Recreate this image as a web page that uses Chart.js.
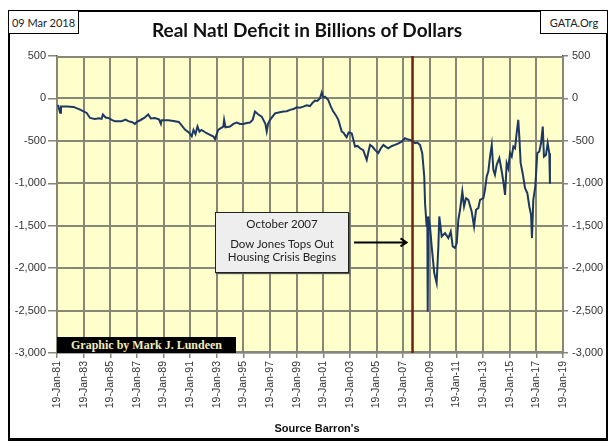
<!DOCTYPE html>
<html>
<head>
<meta charset="utf-8">
<script src="https://cdn.jsdelivr.net/npm/chart.js@4/dist/chart.umd.min.js"></script>
<style>
  body { margin: 0; background: #fff; }
  #wrap { position: relative; width: 614px; height: 447px; }
  #chart { position: absolute; left: 0; top: 0; }
  .abs { position: absolute; box-sizing: border-box; }
  #frame { left: 8px; top: 10px; width: 600px; height: 431px; border: 2px solid #000; border-bottom-width: 3px; }
  .corner { height: 24px; border: 1.5px solid #000; font: 11px Lato, sans-serif; color: #222;
            display: flex; align-items: center; justify-content: center; background: #fff; }
  #title { left: 0; width: 614px; top: 18px; text-align: center; font: bold 19px Lato, sans-serif; color: #111; }
  #source { left: 217px; width: 200px; top: 422px; text-align: center; font: bold 11px "Liberation Sans", sans-serif; color: #111; }
  #byline { left: 57px; top: 337px; width: 179px; height: 16px; background: #000; color: #f3edbd;
            font: bold 12px "Liberation Serif", serif; text-align: center; line-height: 16px; }
  #note { left: 215px; top: 212px; width: 134px; height: 61px; background: #eeeeee; border: 1.5px solid #222;
          box-shadow: 1px 1px 1px #555; font: 11.5px Lato, sans-serif; color: #222; text-align: center; }
</style>
</head>
<body>
<div id="wrap">
  <canvas id="chart" width="614" height="447"></canvas>
  <div class="abs" id="frame"></div>
  <div class="abs corner" style="left:8px; top:10px; width:71px;">09 Mar 2018</div>
  <div class="abs corner" style="left:540px; top:10px; width:68px;">GATA.Org</div>
  <div class="abs" id="title">Real Natl Deficit in Billions of Dollars</div>
  <div class="abs" id="byline">Graphic by Mark J. Lundeen</div>
  <div class="abs" id="note">
    <div style="margin-top:4px;">October 2007</div>
    <div style="margin-top:7px;">Dow Jones Tops Out</div>
    <div>Housing Crisis Begins</div>
  </div>
  <div class="abs" id="source">Source Barron's</div>
</div>
<script>
// decimal years
const dates = [
  1981.1, 1981.15, 1981.28, 1981.35, 1981.8, 1982.3, 1982.78, 1983.28, 1983.53, 1983.9,
  1984.2, 1984.4, 1984.5, 1984.7, 1984.9, 1985.2, 1985.4, 1985.9, 1986.2, 1986.4,
  1986.7, 1986.9, 1987.05, 1987.3, 1987.6, 1987.9, 1988.1, 1988.4, 1988.7, 1988.85,
  1988.9, 1989.4, 1989.8, 1990.2, 1990.66, 1990.95, 1991.17, 1991.3, 1991.45, 1991.6,
  1991.75, 1991.9, 1992.29, 1992.54, 1992.8, 1992.92, 1993.0, 1993.16, 1993.35, 1993.54,
  1993.6, 1993.7, 1994.04, 1994.3, 1994.55, 1994.8, 1995.04, 1995.3, 1995.54, 1995.75,
  1995.92, 1996.17, 1996.42, 1996.7, 1996.8, 1996.9, 1997.05, 1997.42, 1997.7, 1998.05,
  1998.3, 1998.55, 1998.8, 1999.05, 1999.3, 1999.55, 1999.8, 2000.05, 2000.25, 2000.42,
  2000.6, 2000.8, 2000.93, 2001.05, 2001.18, 2001.42, 2001.6, 2001.8, 2002.0, 2002.18,
  2002.43, 2002.6, 2002.67, 2002.8, 2002.95, 2003.18, 2003.3, 2003.43, 2003.62, 2003.81,
  2004.05, 2004.31, 2004.45, 2004.56, 2004.75, 2004.93, 2005.18, 2005.36, 2005.56, 2005.75,
  2005.93, 2006.2, 2006.43, 2006.7, 2006.94, 2007.18, 2007.35, 2007.56, 2007.75, 2007.94,
  2008.1, 2008.31, 2008.48, 2008.63, 2008.69, 2008.81, 2008.86, 2008.89, 2008.93, 2009.06,
  2009.19, 2009.38, 2009.56, 2009.69, 2009.76, 2009.94, 2010.19, 2010.44, 2010.55, 2010.62,
  2010.77, 2010.94, 2011.07, 2011.19, 2011.32, 2011.49, 2011.62, 2011.77, 2011.94, 2012.19,
  2012.37, 2012.52, 2012.69, 2012.82, 2013.07, 2013.19, 2013.32, 2013.44, 2013.57, 2013.7,
  2013.82, 2013.94, 2014.07, 2014.27, 2014.45, 2014.57, 2014.7, 2014.82, 2014.94, 2015.07,
  2015.2, 2015.32, 2015.45, 2015.57, 2015.69, 2015.77, 2015.87, 2016.02, 2016.2, 2016.37,
  2016.52, 2016.65, 2016.72, 2016.82, 2016.97, 2017.12, 2017.27, 2017.4, 2017.53, 2017.62,
  2017.77, 2017.9, 2018.02, 2018.07
];
// real national deficit, billions of dollars
const deficit = [
  -80, -90, -170, -95, -95, -100, -132, -171, -230, -241,
  -235, -241, -190, -225, -230, -255, -268, -268, -250, -268,
  -280, -300, -275, -257, -230, -190, -235, -230, -245, -300,
  -257, -257, -265, -277, -367, -400, -445, -370, -420, -330,
  -390, -371, -410, -430, -450, -480, -440, -371, -350, -332,
  -253, -340, -332, -300, -285, -300, -300, -290, -285, -250,
  -155, -190, -214, -300, -390, -300, -253, -175, -165, -155,
  -150, -135, -125, -104, -110, -97, -80, -90, -50, -26,
  -30, 2, 68, 10, 21, -18, -90, -155, -200, -253,
  -390, -410, -430, -457, -400, -410, -480, -567, -560, -587,
  -610, -724, -620, -548, -570, -606, -645, -590, -548, -570,
  -587, -560, -548, -530, -509, -469, -480, -490, -500, -528,
  -520, -548, -645, -920, -1234, -1509, -1391, -2510, -1391, -1509,
  -1745, -2058, -2175, -1745, -1391, -1627, -1587, -1646, -1600, -1568,
  -1745, -1763, -1705, -1430, -1312, -1097, -1273, -1175, -1195, -1332,
  -1509, -1312, -1293, -1195, -1175, -1077, -920, -861, -685, -548,
  -842, -900, -783, -704, -861, -979, -1136, -763, -822, -645,
  -685, -567, -587, -410, -253, -450, -763, -881, -1057, -1116,
  -1273, -1371, -1646, -1195, -1038, -645, -625, -528, -332, -685,
  -665, -528, -645, -1006
];
// x axis ticks: 19-Jan of every other year
const tickYears = [1981, 1983, 1985, 1987, 1989, 1991, 1993, 1995, 1997, 1999,
                   2001, 2003, 2005, 2007, 2009, 2011, 2013, 2015, 2017, 2019];
const markerYear = 2007.75;   // October 2007
const yTicks = [500, 0, -500, -1000, -1500, -2000, -2500, -3000];

const JAN19 = 0.05;
const gridColor = 'rgb(135, 135, 120)';
const tickFont = { family: 'Liberation Sans', size: 11 };

const points = dates.map((d, i) => ({ x: d, y: deficit[i] }));

function yFormat(v) {
    return v.toLocaleString('en-US');
}

// yellow plot area with its grid, all under the lines
const plotArea = {
    id: 'plotArea',
    beforeDatasetsDraw(chart) {
        const a = chart.chartArea;
        const xs = chart.scales.x;
        const ys = chart.scales.y;
        const ctx = chart.ctx;
        const w = a.right - a.left;
        const h = a.bottom - a.top;
        ctx.save();
        ctx.fillStyle = '#ffffcc';
        ctx.fillRect(a.left, a.top, w, h);
        ctx.fillStyle = gridColor;
        for (let i = 0; i < tickYears.length; i++) {
            const px = Math.round(xs.getPixelForValue(tickYears[i] + JAN19));
            ctx.fillRect(px - 1, a.top, 2, h);
        }
        for (let i = 0; i < yTicks.length; i++) {
            let py = Math.round(ys.getPixelForValue(yTicks[i]));
            py = Math.min(Math.max(py, a.top + 1), a.bottom - 1);
            ctx.fillRect(a.left, py - 1, w, 2);
        }
        ctx.restore();
    }
};

// arrow from the note box to the October 2007 line
const arrow = {
    id: 'arrow',
    afterDatasetsDraw(chart) {
        const xs = chart.scales.x, ys = chart.scales.y;
        const x1 = xs.getPixelForValue(2003.36);
        const x2 = xs.getPixelForValue(2007.3);
        const y = ys.getPixelForValue(-1697);
        const ctx = chart.ctx;
        ctx.save();
        ctx.strokeStyle = '#000';
        ctx.lineWidth = 2;
        ctx.beginPath();
        ctx.moveTo(x1, y);
        ctx.lineTo(x2, y);
        ctx.moveTo(x2 - 6, y - 4);
        ctx.lineTo(x2, y);
        ctx.lineTo(x2 - 6, y + 4);
        ctx.stroke();
        ctx.restore();
    }
};

new Chart(document.getElementById('chart'), {
    type: 'line',
    data: {
        datasets: [
            {
                data: [{ x: markerYear, y: 500 }, { x: markerYear, y: -3000 }],
                borderColor: '#6e2210',
                borderWidth: 2.5,
                pointRadius: 0
            },
            {
                data: points,
                borderColor: '#1d3863',
                borderWidth: 2,
                pointRadius: 0,
                tension: 0
            }
        ]
    },
    options: {
        responsive: false,
        animation: false,
        layout: { padding: { top: 56, left: 0, right: 0, bottom: 0 } },
        plugins: {
            legend: { display: false },
            tooltip: { enabled: false }
        },
        scales: {
            x: {
                type: 'linear',
                min: tickYears[0] + JAN19,
                max: tickYears[tickYears.length - 1] + JAN19,
                afterBuildTicks: s => { s.ticks = tickYears.map(y => ({ value: y + JAN19 })); },
                afterFit: s => { s.height = 94; },
                ticks: {
                    autoSkip: false,
                    minRotation: 90,
                    maxRotation: 90,
                    padding: 3,
                    color: '#333',
                    font: { family: 'Liberation Sans', size: 10.5 },
                    callback: v => '19-Jan-' + String(Math.round(v) % 100).padStart(2, '0')
                },
                grid: { drawOnChartArea: false, color: gridColor, lineWidth: 1.5, tickLength: 5 },
                border: { color: '#555', width: 1.5 }
            },
            y: {
                position: 'left',
                min: -3000,
                max: 500,
                afterBuildTicks: s => { s.ticks = yTicks.map(v => ({ value: v })); },
                afterFit: s => { s.width = 57; },
                ticks: { padding: 2, color: '#333', font: tickFont, callback: yFormat },
                grid: { drawOnChartArea: false, color: gridColor, lineWidth: 1.5, tickLength: 9 },
                border: { color: '#555', width: 1.5 }
            },
            y2: {
                position: 'right',
                min: -3000,
                max: 500,
                afterBuildTicks: s => { s.ticks = yTicks.map(v => ({ value: v })); },
                afterFit: s => { s.width = 51; },
                ticks: { padding: 4, color: '#333', font: tickFont, callback: yFormat },
                grid: { drawOnChartArea: false, color: gridColor, lineWidth: 1.5, tickLength: 5 },
                border: { color: '#555', width: 1.5 }
            }
        }
    },
    plugins: [plotArea, arrow]
});
</script>
</body>
</html>
